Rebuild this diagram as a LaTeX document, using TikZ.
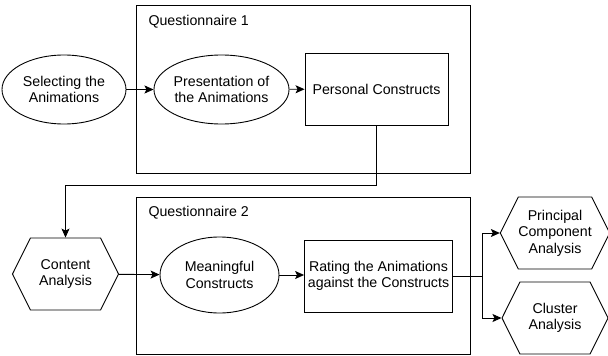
\documentclass[tikz,border=0pt]{standalone}
\usepackage{fontspec}
\setmainfont{Liberation Sans}
\usetikzlibrary{shapes.geometric,shapes.symbols,arrows.meta}
\tikzset{
  every node/.style={font=\fontsize{14.2}{16.5}\selectfont, align=center},
  oval/.style={draw, ellipse, line width=0.9pt, inner sep=0pt},
  box/.style={draw, rectangle, line width=0.9pt, minimum height=72pt},
  hexa/.style={draw, signal, signal to=east and west, signal pointer angle=127,
    line width=0.9pt, inner sep=0pt, minimum width=106pt, minimum height=72pt},
  frame/.style={draw, rectangle, line width=0.9pt, minimum width=334pt},
  arr/.style={line width=0.9pt, -{Stealth[length=9pt,width=8pt,inset=2pt]}}
}
\begin{document}
\begin{tikzpicture}[x=1pt,y=-1pt]
\useasboundingbox (0,0) rectangle (608,356);
% questionnaire frames
\node[frame, minimum height=168pt] (q1) at (303,89) {};
\node[anchor=west] (q1label) at (145,22) {Questionnaire 1};
\node[frame, minimum height=157pt] (q2) at (303,275.5) {};
\node[anchor=west] (q2label) at (145,213) {Questionnaire 2};

\node[oval, minimum width=124pt, minimum height=69pt] (select) at (64,89.5) {Selecting the\\Animations};
\node[oval, minimum width=121pt, minimum height=69pt] (present) at (221.5,89.5) {Presentation of\\the Animations};
\node[box, minimum width=143pt] (personal) at (376.5,89) {Personal Constructs};

\node[hexa] (content) at (65.5,274) {Content\\Analysis};
\node[oval, minimum width=119pt, minimum height=76pt] (meaning) at (219.5,275) {Meaningful\\Constructs};
\node[box, minimum width=147pt] (rating) at (378.5,276) {Rating the Animations\\against the Constructs};

\node[hexa] (pca) at (555,233) {Principal\\Component\\Analysis};
\node[hexa] (cluster) at (555,318) {Cluster\\Analysis};

\draw[arr] (select) -- (present);
\draw[arr] (present) -- (personal);
\draw[arr] (personal.south) -- ++(0,60) -| (content.north);
\draw[arr] (content) -- (meaning);
\draw[arr] (meaning) -- (rating.west |- meaning);
\draw[arr] (rating.east) -- ++(30,0) |- (pca.west);
\draw[arr] (rating.east) -- ++(30,0) |- (cluster.west);
\end{tikzpicture}
\end{document}
